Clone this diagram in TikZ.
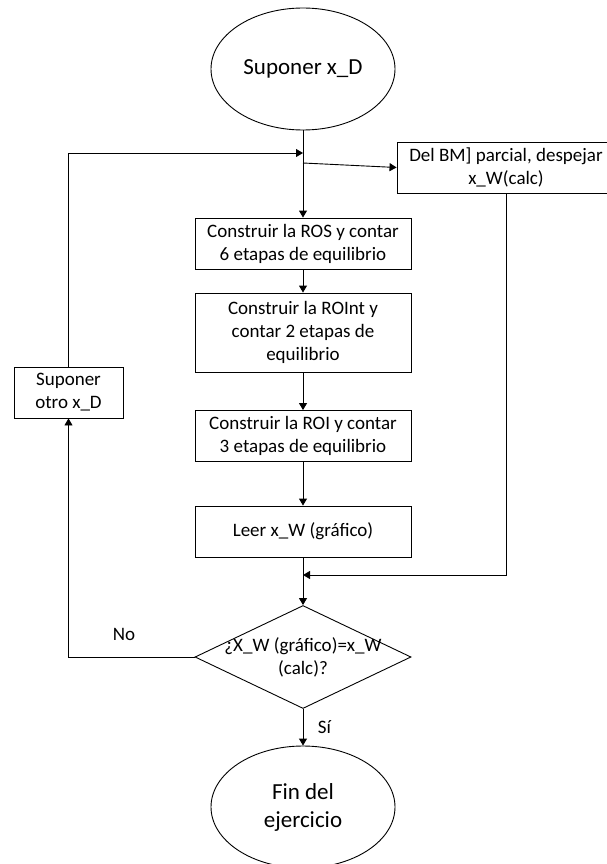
\documentclass[tikz,border=0pt]{standalone}
\usepackage{fontspec}
\setmainfont{Carlito}
\usetikzlibrary{shapes.geometric,arrows.meta,positioning}

\begin{document}
\begin{tikzpicture}[x=1pt, y=-1pt, line width=0.9pt, >={Triangle[length=7pt,width=8pt]},
main/.style = {draw, ellipse, minimum width=184pt, minimum height=122pt, inner sep=0pt, align=center, font=\fontsize{23}{28}\selectfont},
box/.style = {draw, rectangle, minimum width=216pt, minimum height=51pt, inner sep=2pt, align=center, font=\fontsize{19}{23}\selectfont},
dec/.style = {draw, diamond, minimum width=216pt, minimum height=103pt, inner sep=0pt},
lbl/.style = {font=\fontsize{19}{23}\selectfont}]
\useasboundingbox (0,0) rectangle (606,864);

\node[main] (1) at (303,69) {Suponer x\_D};
\node[box] (2) [below of=1, node distance=174.5pt] {Construir la ROS y contar\\6 etapas de equilibrio};
\node[box, minimum height=79pt] (3) [below of=2, node distance=89pt] {Construir la ROInt y\\contar 2 etapas de\\equilibrio};
\node[box] (4) [below of=3, node distance=103.5pt] {Construir la ROI y contar\\3 etapas de equilibrio};
\node[box] (5) [below of=4, node distance=95.5pt] {Leer x\_W (gráfico)};
\node[dec, label={[lbl, align=center]center:{¿X\_W (gráfico)=x\_W\\(calc)?}}] (6) [below of=5, node distance=125.5pt] {};
\node[main] (7) [below of=6, node distance=150pt] {Fin del\\ejercicio};

\node[box, minimum width=218pt] (8) at (506,167.5) {Del BM] parcial, despejar\\x\_W(calc)};
\node[box, minimum width=109pt] (9) at (68.5,392.5) {Suponer\\otro x\_D};

\coordinate (j1) at (303,153);
\coordinate (b1) at (303,163);
\coordinate (j2) at (303,575);

\draw[->] (1) -- (2);
\draw[->] (2) -- (3);
\draw[->] (3) -- (4);
\draw[->] (4) -- (5);
\draw[->] (5) -- (6);
\draw[->] (6) -- node[pos=0.5, right=11pt, lbl] {Sí} (7);

\draw[->] (b1) -- (8.west);
\draw[->] (8) -- (8 |- j2) -- (j2);

\draw[->] (6.west) -- node[pos=0.56, above=13pt, lbl] {No} (9.south |- 6.west) -- (9.south);
\draw[->] (9) -- (9 |- j1) -- (j1);

\end{tikzpicture}
\end{document}
